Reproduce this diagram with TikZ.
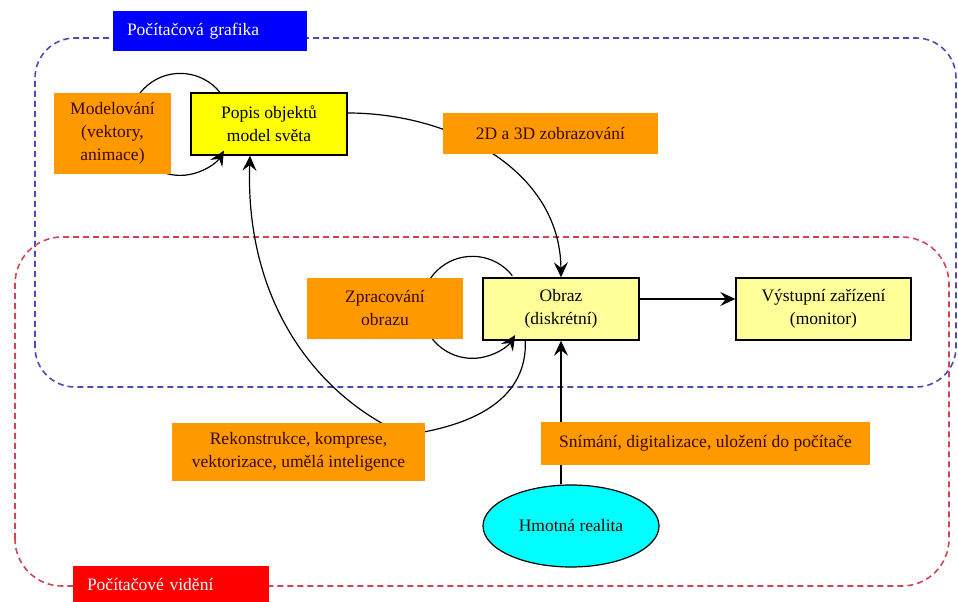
\documentclass[tikz,border=0pt]{standalone}
\usepackage{fontspec}
\setmainfont{Liberation Serif}
\usetikzlibrary{arrows.meta,shapes.geometric,calc}
\definecolor{orng}{HTML}{FF9900}
\definecolor{ylw}{HTML}{FFFF00}
\definecolor{lylw}{HTML}{FFFF99}
\definecolor{cyn}{HTML}{00FFFF}
\definecolor{bluedash}{HTML}{4B4BB4}
\definecolor{reddash}{HTML}{D04555}
\definecolor{brtxt}{HTML}{3A0800}
\definecolor{bluelab}{HTML}{0000FF}
\definecolor{redlab}{HTML}{FF0000}
\pgfdeclarelayer{back}
\pgfdeclarelayer{mid}
\pgfsetlayers{back,mid,main}
\begin{document}
\begin{tikzpicture}[x=1pt,y=1pt,
  txt/.style={font=\fontsize{17.5}{23}\selectfont, align=center, inner sep=0pt},
  ybox/.style={txt, draw=black, line width=1.4pt, fill=ylw},
  lybox/.style={txt, draw=black, line width=1.4pt, fill=lylw},
  obox/.style={txt, fill=orng, text=brtxt},
  labbox/.style={txt, align=left, text=white, inner xsep=14pt},
  conn/.style={line width=1.2pt, -{Stealth[length=15pt,width=14pt,inset=5.5pt]}},
  region/.style={dash pattern=on 6pt off 4pt, line width=1.6pt}]
\useasboundingbox (0,0) rectangle (958,602);

\begin{pgfonlayer}{back}
  \fill[white] (0,0) rectangle (958,602);
  \draw[region, bluedash, rounded corners=40pt] (35,215) rectangle (956,564);
  \draw[region, reddash, rounded corners=47pt] (15,16) rectangle (949,365);
  \node[ybox, minimum width=156pt, minimum height=62pt] (popis) at (269,478) {Popis objektů\\model světa};
  \node[lybox, minimum width=156pt, minimum height=62pt] (obraz) at (561,293) {Obraz\\(diskrétní)};
  \node[lybox, minimum width=175pt, minimum height=62pt] (vystup) at (823.5,293) {Výstupní zařízení\\(monitor)};
\end{pgfonlayer}

\node[obox, minimum width=117pt, minimum height=81pt] (model) at (112.5,468.5) {Modelování\\(vektory,\\animace)};
\node[obox, minimum width=215pt, minimum height=41pt] (zobr) at (550.5,468.5) {2D a 3D zobrazování};
\node[obox, minimum width=156pt, minimum height=61pt] (zprac) at (385,293.5) {Zpracování\\obrazu};
\node[obox, minimum width=253pt, minimum height=58pt] (rek) at (298.5,150) {Rekonstrukce, komprese,\\vektorizace, umělá inteligence};
\node[obox, minimum width=329pt, minimum height=43pt] (snim) at (705.5,158.5) {Snímání, digitalizace, uložení do počítače};
\node[txt, ellipse, draw=black, line width=1.2pt, fill=cyn, minimum width=176pt, minimum height=82pt, text=brtxt] (hmot) at (571,76) {Hmotná realita};

\node[labbox, fill=bluelab, minimum height=40pt, text width=166pt] (glab) at (210,571) {Počítačová grafika};
\node[labbox, fill=redlab, minimum height=36pt, text width=168pt] (vlab) at (171,18) {Počítačové vidění};

\begin{pgfonlayer}{mid}
  \draw[conn] ([xshift=29.6pt]popis.north west) arc[start angle=39, end angle=329, radius=51pt];
  \draw[conn] ([xshift=30pt,yshift=1.7pt]obraz.north west) arc[start angle=38.5, end angle=327, radius=51pt];
  \draw[conn] ([yshift=11pt]popis.east) .. controls +(103,0) and +(-1,108) .. (obraz.north);
  \draw[conn] ([xshift=43pt]obraz.south west) .. controls +(2,-55) and +(75,10) .. ($(rek.center)+(106.5,17)$)
              .. controls +(-90,40) and +(-5,-145) .. ([xshift=-19pt]popis.south);
  \draw[conn] ([xshift=-10pt]hmot.north) -- (obraz.south);
  \draw[conn] ([yshift=10pt]obraz.east) -- ([yshift=10pt]vystup.west);
\end{pgfonlayer}
\end{tikzpicture}
\end{document}
